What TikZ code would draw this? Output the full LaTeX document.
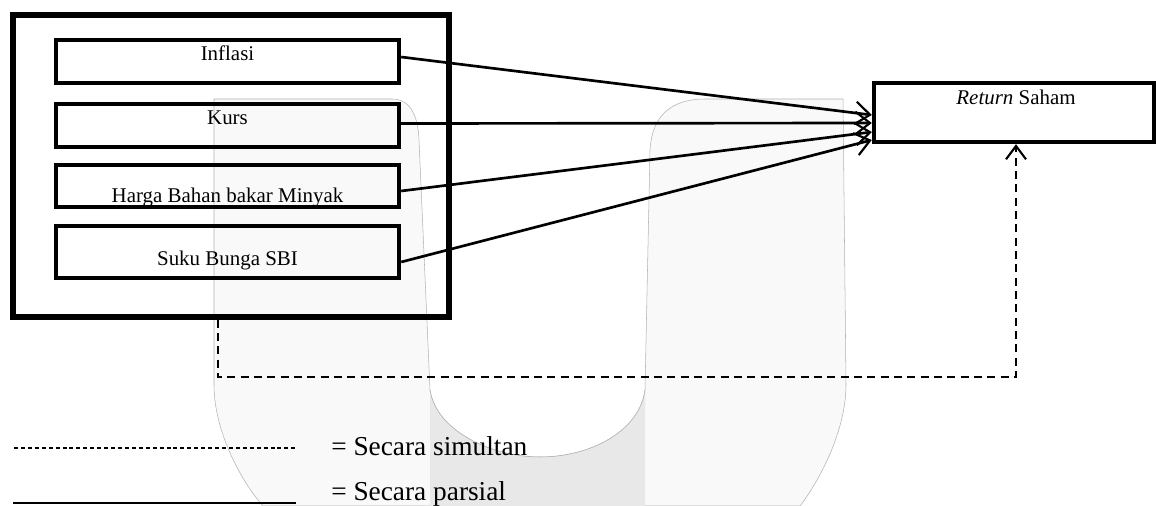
\documentclass[tikz,border=0pt]{standalone}
\usepackage{fontspec}
\setmainfont{Liberation Serif}
\usetikzlibrary{arrows.meta,calc,fit}
\begin{document}
\begin{tikzpicture}[x=0.75pt,y=-0.75pt,
  box/.style={draw, line width=3.3pt, inner sep=0pt, rectangle},
  outerbox/.style={draw, line width=3.9pt, inner sep=0pt, rectangle},
  lab/.style={font=\fontsize{15.7}{18}\selectfont, inner sep=0pt, anchor=base},
  leg/.style={font=\fontsize{20.5}{24}\selectfont, inner sep=0pt, anchor=base west},
  arr/.style={line width=2pt, -{Straight Barb[length=11pt,width=17pt,line width=1.6pt]}},
  simul/.style={line width=1.6pt, dash pattern=on 6pt off 4pt, -{Straight Barb[length=10pt,width=15pt,line width=1.6pt]}},
  wm/.style={fill=black!2.5, draw=black!30, line width=0.4pt},
  wmband/.style={fill=black!9}]
\useasboundingbox (0,0) rectangle (1156,506);
% watermark
\path[wm] (214,99) -- (392,99) .. controls (410,99) and (418,115) .. (419,140)
  -- (430,390) .. controls (436,430) and (490,457) .. (540,457)
  .. controls (592,457) and (640,430) .. (645,390)
  -- (650,150) .. controls (652,115) and (672,99) .. (705,99)
  -- (843,99) -- (846,385) .. controls (846,430) and (820,480) .. (800,506)
  -- (263,506) .. controls (240,480) and (214,430) .. (214,385) -- cycle;
\path[wmband] (430,390) .. controls (436,430) and (490,457) .. (540,457)
  .. controls (592,457) and (640,430) .. (645,390) -- (645,506) -- (430,506) -- cycle;
\draw[black!30, line width=0.4pt] (430,390) .. controls (436,430) and (490,457) .. (540,457)
  .. controls (592,457) and (640,430) .. (645,390);
% outer box
\node[outerbox, fit={(13,15)(449,317)}] (outer) {};
% inner boxes
\node[box, fit={(56,40)(399,83)}] (inf) {};
\node[box, fit={(56,104)(399,147)}] (kurs) {};
\node[box, fit={(56,165)(399,207)}] (bbm) {};
\node[box, fit={(56,226)(399,278)}] (sbi) {};
\node[lab] (tinf) at (227.5,61) {Inflasi};
\node[lab] (tkurs) at (227.5,125) {Kurs};
\begin{scope}
\clip (50,160) rectangle (405,206);
\node[lab] (tbbm) at (227.5,203) {Harga Bahan bakar Minyak};
\end{scope}
\node[lab] (tsbi) at (227.5,265) {Suku Bunga SBI};
% return box
\node[box, fit={(874,83)(1154,142)}] (ret) {};
\node[lab] (tret) at (1016,105) {\textit{Return} Saham};
% arrows
\draw[arr] ($(inf.east)+(0,-4.5)$) -- ($(ret.west)+(0,2.5)$);
\draw[arr] ($(kurs.east)+(0,-2)$) -- ($(ret.west)+(0,10.5)$);
\draw[arr] ($(bbm.east)+(0,5)$) -- ($(ret.west)+(0,19.5)$);
\draw[arr] ($(sbi.east)+(0,10)$) -- ($(ret.west)+(0,27.5)$);
% simultaneous
\coordinate (c1) at (218,377);
\coordinate (c2) at (1016,377);
\draw[simul] (outer.south -| c1) -- (c1) -- (c2) -- (ret.south -| c2);
% legend
\coordinate (d1) at (14,448);
\coordinate (d2) at (296,448);
\coordinate (s1) at (13,503);
\coordinate (s2) at (296,503);
\draw[line width=1.5pt, dash pattern=on 3pt off 2.2pt] (d1) -- (d2);
\draw[line width=1.2pt] (s1) -- (s2);
\node[leg] (l1) at (331,455) {= Secara simultan};
\node[leg] (l2) at (331,500) {= Secara parsial};
\end{tikzpicture}
\end{document}
